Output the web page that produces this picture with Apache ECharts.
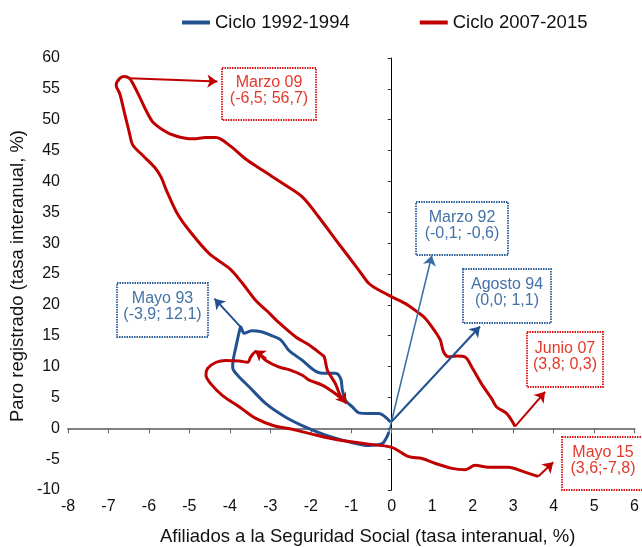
<!DOCTYPE html>
<html>
<head>
<meta charset="utf-8">
<script src="https://cdn.jsdelivr.net/npm/echarts@6/dist/echarts.min.js"></script>
<style>
  html, body { margin: 0; padding: 0; background: #fff; }
  #chart { width: 642px; height: 547px; }
</style>
</head>
<body>
<div id="chart"></div>
<script>
// afiliados (x) / paro registrado (y), tasa interanual %
const cycle9294 = [
  [-0.07, -0.6], [-0.12, -1.4], [-0.24, -2.5], [-0.57, -2.8], [-1.06, -2.2], [-1.63, -1.1],
  [-2.13, 0.2], [-2.62, 1.8], [-3.11, 4.0], [-3.52, 6.7], [-3.81, 8.6], [-3.93, 9.8],
  [-3.92, 11.0], [-3.85, 13.2], [-3.77, 15.6], [-3.73, 16.4], [-3.65, 15.4], [-3.45, 15.8],
  [-3.2, 15.6], [-3.0, 15.1], [-2.74, 14.3], [-2.54, 12.6], [-2.21, 11.0], [-1.92, 9.4],
  [-1.72, 8.9], [-1.39, 8.9], [-1.26, 8.0], [-1.22, 6.2], [-1.14, 4.5], [-0.98, 3.5],
  [-0.81, 2.5], [-0.57, 2.4], [-0.32, 2.4], [-0.03, 1.0]
]

const cycle0715 = [
  [3.05, 0.3], [2.84, 2.4], [2.59, 3.45], [2.47, 4.8], [2.22, 7.2], [1.98, 9.9], [1.82, 11.5],
  [1.61, 11.7], [1.4, 11.6], [1.28, 12.4], [1.2, 14.3], [1.08, 15.6], [0.83, 17.8], [0.58, 19.1],
  [0.34, 20.2], [0.0, 21.3], [-0.32, 22.4], [-0.57, 23.5], [-0.81, 25.6], [-1.31, 29.9],
  [-1.8, 34.2], [-2.21, 37.5], [-2.7, 39.7], [-3.19, 41.8], [-3.6, 43.6], [-4.0, 45.8],
  [-4.34, 47.1], [-4.6, 47.1], [-4.9, 46.9], [-5.1, 47.0], [-5.35, 47.4], [-5.57, 48.0],
  [-5.9, 49.6], [-6.07, 51.5], [-6.23, 53.7], [-6.4, 55.9], [-6.48, 56.7], [-6.6, 57.0],
  [-6.72, 56.7], [-6.81, 55.6], [-6.72, 54.2], [-6.6, 51.0], [-6.48, 47.8], [-6.4, 45.9],
  [-6.15, 44.2], [-5.86, 42.3], [-5.7, 40.7], [-5.57, 38.6], [-5.3, 34.8], [-5.0, 32.0],
  [-4.51, 28.3], [-4.01, 25.9], [-3.69, 23.5], [-3.36, 20.7], [-3.08, 19.0], [-2.8, 17.2],
  [-2.37, 14.8], [-2.04, 13.5], [-1.76, 12.1], [-1.67, 11.6], [-1.59, 9.4], [-1.39, 7.2],
  [-1.26, 5.1], [-1.14, 4.2], [-1.39, 5.6], [-1.72, 7.0], [-2.04, 7.8], [-2.21, 8.6],
  [-2.54, 9.5], [-2.78, 9.9], [-3.11, 11.0], [-3.36, 12.4], [-3.48, 11.6], [-3.56, 10.7],
  [-3.77, 10.9], [-4.1, 11.0], [-4.34, 10.7], [-4.55, 9.7], [-4.59, 8.6], [-4.47, 7.2],
  [-4.18, 5.3], [-3.77, 3.5], [-3.65, 2.9], [-3.36, 1.6], [-2.95, 0.5], [-2.37, -0.3],
  [-1.88, -1.1], [-1.31, -1.9], [-0.65, -2.5], [0.0, -3.1], [0.42, -4.6], [0.75, -4.9],
  [1.08, -5.7], [1.49, -6.5], [1.82, -6.7], [2.06, -6.0], [2.39, -6.3], [2.88, -6.3],
  [3.29, -7.1], [3.62, -7.8]
]

// annotation arrows: [from point, to label]
const arrows9294 = [
  [[-0.07, -0.6], [0.99, 28.0], '#3b6ea5', 1.5],
  [[0.0, 1.1], [2.18, 16.5], '#23508f', 2],
  [[-3.73, 16.4], [-4.38, 21.0], '#23508f', 2]
]
const arrows0715 = [
  [[-6.48, 56.7], [-4.31, 56.2]],
  [[3.05, 0.3], [3.79, 5.9]],
  [[3.62, -7.8], [3.99, -5.5]],
  [[-1.3, 5.6], [-1.12, 4.0]],
  [[-3.1, 11.3], [-3.38, 12.6]]
]

const notes = [
  { x: 222, y: 68, w: 94, h: 52, lines: ['Marzo 09', '(-6,5; 56,7)'], red: true },
  { x: 416, y: 202, w: 92, h: 53, lines: ['Marzo 92', '(-0,1; -0,6)'], red: false },
  { x: 463, y: 269, w: 88, h: 54, lines: ['Agosto 94', '(0,0; 1,1)'], red: false },
  { x: 117, y: 283, w: 91, h: 54, lines: ['Mayo 93', '(-3,9; 12,1)'], red: false },
  { x: 527, y: 332, w: 76, h: 55, lines: ['Junio 07', '(3,8; 0,3)'], red: true },
  { x: 562, y: 437, w: 90, h: 53, lines: ['Mayo 15', '(3,6;-7,8)'], red: true }
]

const FONT = '"Liberation Sans", Arial, sans-serif'
const BLUE = '#23508f'
const RED = '#c00000'

const graphic = [
  {
    type: 'text', left: 160, top: 527,
    style: { text: 'Afiliados a la Seguridad Social (tasa interanual, %)', fontSize: 18.5, fontFamily: FONT, fill: '#111' }
  },
  {
    type: 'text', x: 8, y: 422, rotation: Math.PI / 2,
    style: { text: 'Paro registrado (tasa interanual, %)', fontSize: 18.5, fontFamily: FONT, fill: '#111' }
  }
]
notes.forEach((n) => {
  graphic.push({
    type: 'rect', shape: { x: n.x, y: n.y, width: n.w, height: n.h }, z: 10,
    style: { fill: '#fff', stroke: n.red ? '#d81818' : '#2f5f9a', lineWidth: 1.8, lineDash: [1.5, 1] }
  })
  graphic.push({
    type: 'text', x: n.x + n.w / 2 + (n.x > 550 ? -4 : 0), y: n.y + n.h / 2 - 3, z: 11,
    style: {
      text: n.lines.join('\n'), fontSize: 16, fontFamily: FONT, lineHeight: 16,
      fill: n.red ? '#e23a2a' : '#4472a8', align: 'center', verticalAlign: 'middle'
    }
  })
})

function arrowLines(list, color) {
  return list.map((a) => [
    { coord: a[0], lineStyle: { color: a[2] || color, width: a[3] || 2, type: 'solid' } },
    { coord: a[1] }
  ])
}

const chart = echarts.init(document.getElementById('chart'))
chart.setOption({
  animation: false,
  textStyle: { fontFamily: FONT },
  legend: {
    left: 177, top: 8, itemWidth: 28, itemHeight: 4, itemGap: 70, icon: 'rect',
    textStyle: { fontSize: 18.5, color: '#111', fontFamily: FONT },
    data: ['Ciclo 1992-1994', 'Ciclo 2007-2015']
  },
  grid: { left: 68, right: 5, top: 58, bottom: 57 },
  xAxis: [
    {
      type: 'value', min: -8, max: 6, interval: 1, position: 'bottom',
      axisLine: { onZero: true, lineStyle: { color: '#808080', width: 2 } },
      axisTick: { length: 5, lineStyle: { color: '#666', width: 1 } },
      axisLabel: { show: false }, splitLine: { show: false }
    },
    {
      type: 'value', min: -8, max: 6, interval: 1, position: 'bottom',
      axisLine: { show: false, onZero: false }, axisTick: { show: false },
      axisLabel: { fontSize: 16, color: '#111', margin: 9, fontFamily: FONT },
      splitLine: { show: false }
    }
  ],
  yAxis: [
    {
      type: 'value', min: -10, max: 60, interval: 5, position: 'left',
      axisLine: { onZero: true, lineStyle: { color: '#000', width: 1 } },
      axisTick: { length: 4, lineStyle: { color: '#333' } },
      axisLabel: { show: false }, splitLine: { show: false }
    },
    {
      type: 'value', min: -10, max: 60, interval: 5, position: 'left',
      axisLine: { show: false, onZero: false }, axisTick: { show: false },
      axisLabel: { fontSize: 16, color: '#111', margin: 8, fontFamily: FONT },
      splitLine: { show: false }
    }
  ],
  series: [
    {
      name: 'Ciclo 1992-1994', type: 'line', data: cycle9294, smooth: 0.3,
      showSymbol: false, lineStyle: { color: BLUE, width: 3 }, itemStyle: { color: BLUE },
      markLine: {
        silent: true, symbol: ['none', 'arrow'], symbolSize: 10, label: { show: false },
        lineStyle: { type: 'solid' },
        data: arrowLines(arrows9294, BLUE)
      }
    },
    {
      name: 'Ciclo 2007-2015', type: 'line', data: cycle0715, smooth: 0.3,
      showSymbol: false, lineStyle: { color: RED, width: 3 }, itemStyle: { color: RED },
      markLine: {
        silent: true, symbol: ['none', 'arrow'], symbolSize: 10, label: { show: false },
        lineStyle: { type: 'solid' },
        data: arrowLines(arrows0715, RED)
      }
    }
  ],
  graphic
})
</script>
</body>
</html>
